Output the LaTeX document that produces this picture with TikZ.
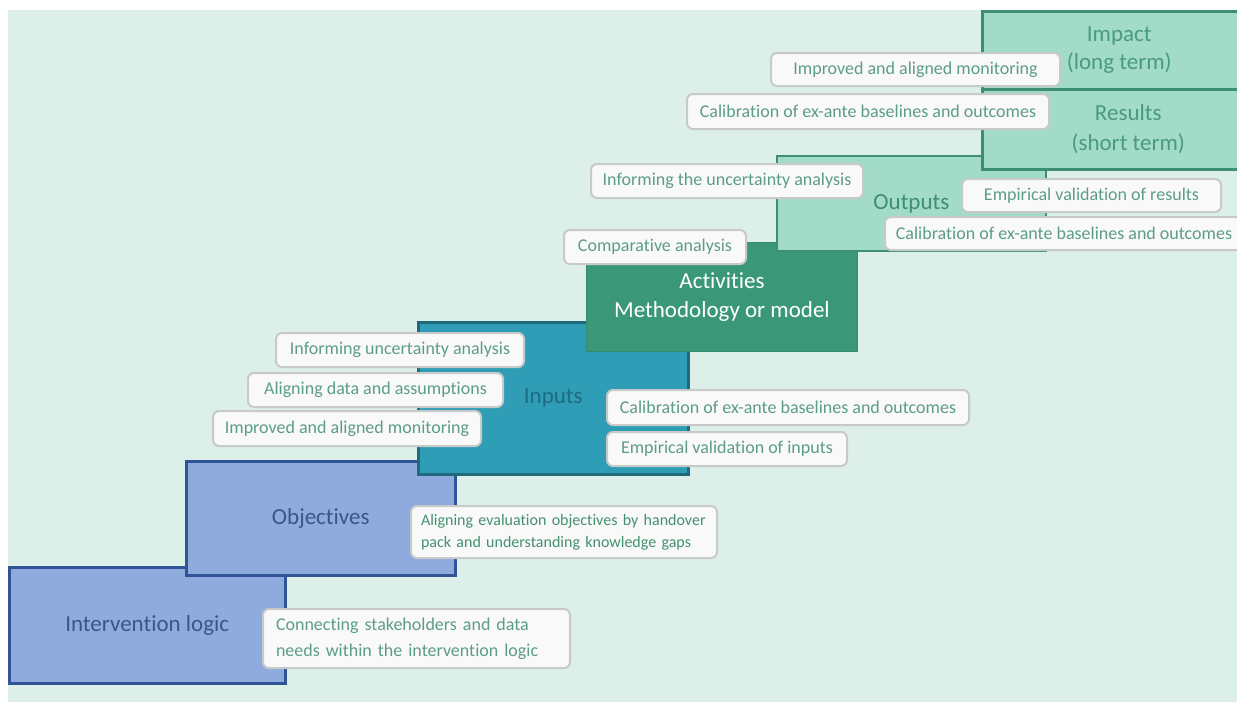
\documentclass[tikz,border=0pt]{standalone}
\usepackage{fontspec}
\setmainfont{Carlito}[Ligatures=NoCommon]
\definecolor{bg}{HTML}{DCEFE8}
\definecolor{bluefill}{HTML}{8FAADC}
\definecolor{blueline}{HTML}{2F5597}
\definecolor{bluetext}{HTML}{3A5688}
\definecolor{tealfill}{HTML}{2F9DB5}
\definecolor{tealline}{HTML}{1F6A7D}
\definecolor{tealtext}{HTML}{1F6B82}
\definecolor{greenfill}{HTML}{3A9878}
\definecolor{greenline}{HTML}{338A6C}
\definecolor{mintfill}{HTML}{A3DBC9}
\definecolor{mintline}{HTML}{3D8F70}
\definecolor{minttext}{HTML}{4A9A7E}
\definecolor{notefill}{HTML}{F9F9F9}
\definecolor{noteline}{HTML}{C8CACA}
\definecolor{notetext}{HTML}{5C9D87}
\definecolor{notetextdark}{HTML}{45906F}
\tikzset{
  stagebox/.style={draw, line width=2.5pt, anchor=north west, inner sep=0pt,
    align=center, font=\fontsize{23}{28.5}\selectfont},
  note/.style={draw=noteline, fill=notefill, line width=2pt, rounded corners=6pt,
    anchor=north west, inner sep=0pt, text=notetext,
    font=\fontsize{18}{22}\selectfont},
}
\begin{document}
\begin{tikzpicture}[x=1pt,y=-1pt]
\useasboundingbox (0,0) rectangle (1237,702);
\fill[bg] (8,10) rectangle (1237,702);

% stages of the intervention logic, from bottom-left to top-right
\node[stagebox, fill=bluefill, draw=blueline, text=bluetext,
  minimum width=276pt, minimum height=116pt] (il) at (8,566) {Intervention logic};
\node[stagebox, fill=bluefill, draw=blueline, text=bluetext,
  minimum width=269pt, minimum height=114pt] (obj) at (185,460) {Objectives};
\node[stagebox, fill=tealfill, draw=tealline, text=tealtext,
  minimum width=270pt, minimum height=152pt] (inp) at (417,321) {Inputs};
\node[stagebox, fill=greenfill, draw=greenline, text=white, line width=1pt,
  minimum width=271pt, minimum height=109pt] (act) at (586,242) {Activities\\Methodology or model};
\node[stagebox, fill=mintfill, draw=mintline, text=mintline, line width=1.8pt,
  minimum width=269pt, minimum height=95pt] (out) at (776,155) {Outputs};
\node[stagebox, fill=mintfill, draw=mintline, text=minttext,
  font=\fontsize{23}{30}\selectfont,
  minimum width=292pt, minimum height=80pt] (res) at (981,88) {Results\\(short term)};
\node[stagebox, fill=mintfill, draw=mintline, text=minttext,
  minimum width=274pt, minimum height=78pt] (imp) at (981,10) {Impact\\(long term)};

% callouts
\node[note, minimum width=289pt, minimum height=33pt] (n1) at (770,52) {Improved and aligned monitoring};
\node[note, minimum width=362pt, minimum height=35pt] (n2) at (686,93) {Calibration of ex-ante baselines and outcomes};
\node[note, minimum width=272pt, minimum height=34pt] (n3) at (590,163) {Informing the uncertainty analysis};
\node[note, minimum width=259pt, minimum height=33pt] (n4) at (961,178) {Empirical validation of results};
\node[note, minimum width=358pt, minimum height=33pt] (n5) at (884,216) {Calibration of ex-ante baselines and outcomes};
\node[note, minimum width=182pt, minimum height=34pt] (n6) at (563,229) {Comparative analysis};
\node[note, minimum width=248pt, minimum height=34pt] (n7) at (275,332) {Informing uncertainty analysis};
\node[note, minimum width=255pt, minimum height=34pt] (n8) at (247,372) {Aligning data and assumptions};
\node[note, minimum width=268pt, minimum height=35pt] (n9) at (212,410) {Improved and aligned monitoring};
\node[note, minimum width=362pt, minimum height=35pt] (n10) at (606,389) {Calibration of ex-ante baselines and outcomes};
\node[note, minimum width=240pt, minimum height=34pt] (n11) at (606,431) {Empirical validation of inputs};
\node[note, text=notetextdark, minimum height=52pt, inner xsep=10pt, text width=286pt,
  align=left, font=\fontsize{16}{22}\selectfont] (n12) at (410,505)
  {Aligning evaluation objectives by handover\\pack and understanding knowledge gaps};
\node[note, minimum height=59pt, inner xsep=13pt, text width=281pt, align=left,
  font=\fontsize{18}{26}\selectfont] (n13) at (262,608)
  {Connecting stakeholders and data\\needs within the intervention logic};
\end{tikzpicture}
\end{document}
